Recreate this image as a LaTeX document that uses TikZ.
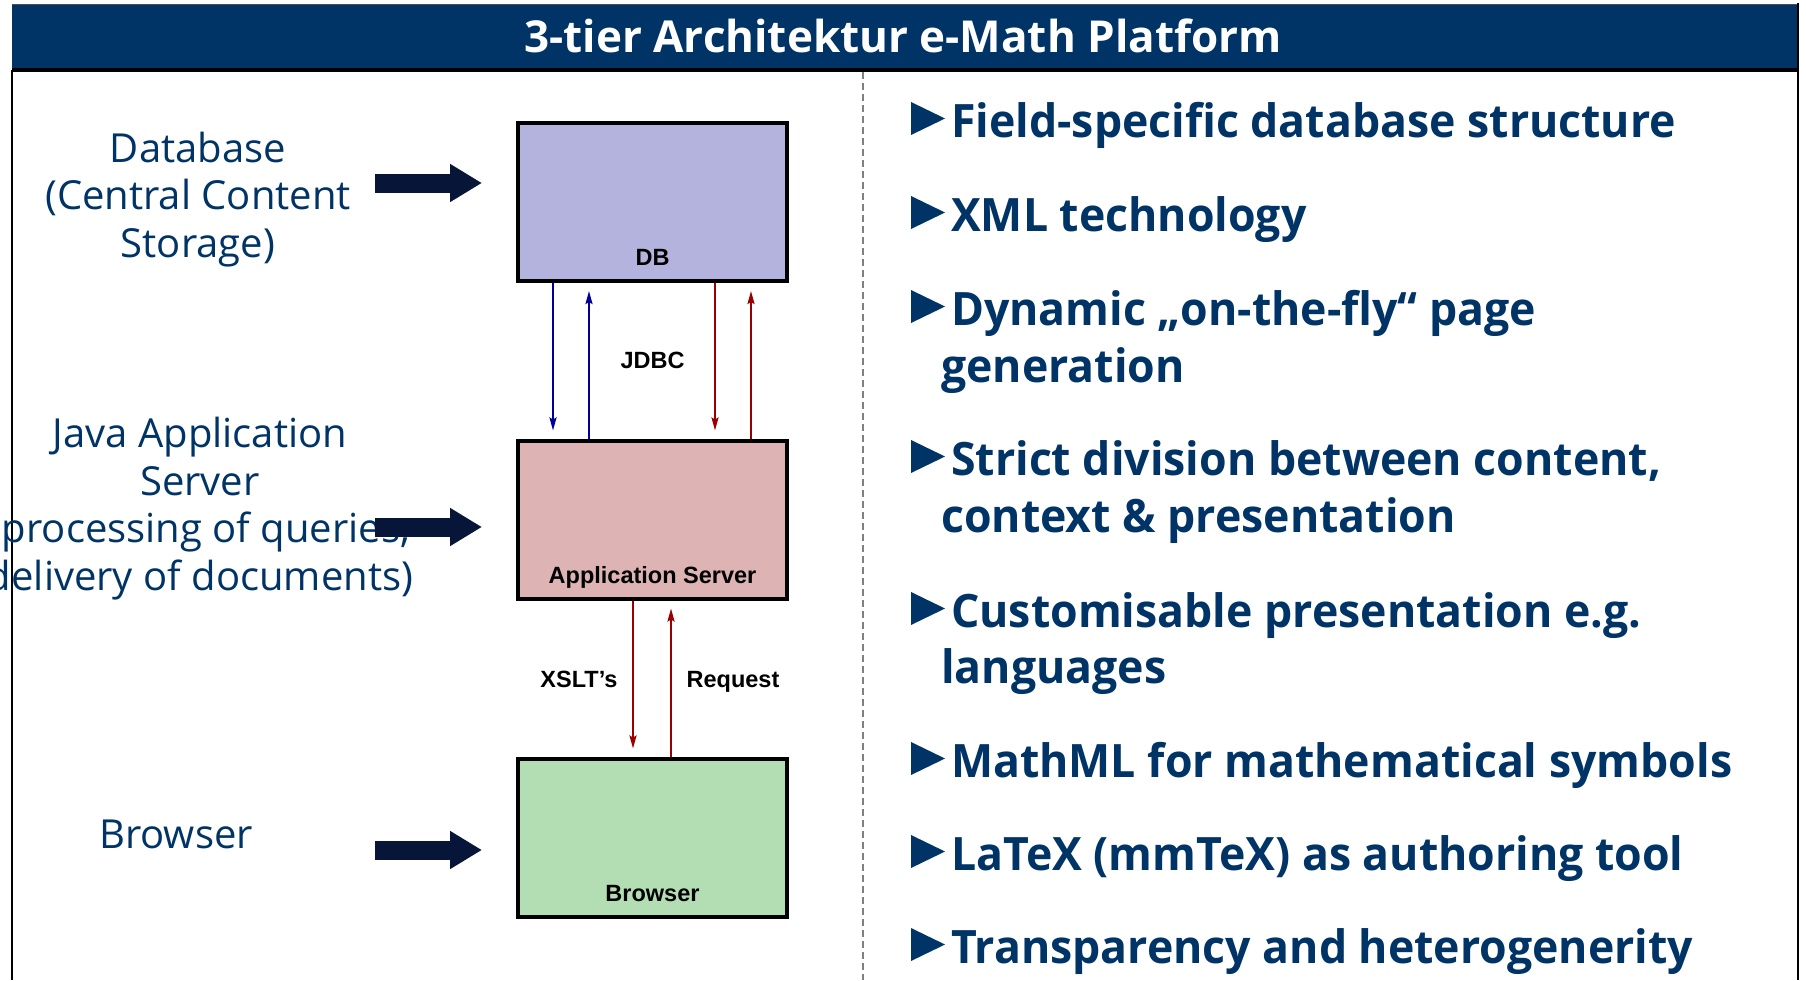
\documentclass[tikz,border=0pt]{standalone}
\usepackage{fontspec}
\usetikzlibrary{arrows.meta}

\newfontfamily\labelfont{Open Sans}
\newfontfamily\itemfont[FakeStretch=0.97]{Open Sans}
\newfontfamily\boxfont{Liberation Sans}

\definecolor{navy}{HTML}{003366}
\definecolor{arrownavy}{HTML}{071638}
\definecolor{dbfill}{HTML}{B3B3DD}
\definecolor{appfill}{HTML}{DDB3B3}
\definecolor{brfill}{HTML}{B3DDB3}
\definecolor{fblue}{HTML}{000099}
\definecolor{fred}{HTML}{990000}

\tikzset{
  title/.style={font=\labelfont\bfseries\fontsize{44}{50}\selectfont, text=white, anchor=base, inner sep=0pt},
  side/.style={font=\labelfont\fontsize{40}{47.5}\selectfont, text=navy, align=center, anchor=base, inner sep=0pt},
  item/.style={font=\itemfont\bfseries\fontsize{46}{57}\selectfont, text=navy, anchor=base west, inner sep=0pt},
  tier/.style={draw=black, line width=4pt, minimum width=269pt, minimum height=158pt, inner sep=0pt},
  boxlbl/.style={font=\boxfont\bfseries\fontsize{23.5}{28}\selectfont, anchor=base, inner sep=0pt},
  flow/.style={line width=2pt, -{Stealth[length=13pt,width=7pt,inset=2pt]}, shorten >=8pt},
  bigarrow/.style={arrownavy, line width=19pt, -{Triangle[length=32pt,width=36pt]}, shorten >=34pt}
}

\newcommand{\itemmark}[1]{\fill[navy] (#1.base west) ++(-40,-2) -- ++(0,-33) -- ++(34,16.5) -- cycle;}

\begin{document}
\begin{tikzpicture}[x=1pt, y=-1pt]
  \useasboundingbox (0,0) rectangle (1806,980);

  % header band and frame
  \fill[navy] (12,5) rectangle (1797,68);
  \draw[black!70, line width=1pt] (12,4.5) -- (1797,4.5);
  \draw[line width=4pt] (12,70) -- (1799,70);
  \draw[line width=2.5pt] (1798,3) -- (1798,980);
  \draw[line width=1.5pt] (12,70) -- (12,980);
  \draw[gray, line width=1.5pt, dash pattern=on 7pt off 4pt] (863,72) -- (863,980);
  \node[title] (head) at (903,52) {3-tier Architektur e-Math Platform};

  % tiers
  \node[tier, fill=dbfill] (db) at (652.5,202) {};
  \node[tier, fill=appfill] (app) at (652.5,519.5) {};
  \node[tier, fill=brfill] (br) at (652.5,837.5) {};
  \node[boxlbl] (dblbl) at (652.5,265) {DB};
  \node[boxlbl] (applbl) at (652.5,583) {Application Server};
  \node[boxlbl] (brlbl) at (652.5,901) {Browser};

  % db <-> app
  \draw[flow, fblue] ([xshift=-99.5pt]db.south) -- ([xshift=-99.5pt]app.north);
  \draw[flow, fblue] ([xshift=-63.5pt]app.north) -- ([xshift=-63.5pt]db.south);
  \draw[flow, fred] ([xshift=62.5pt]db.south) -- ([xshift=62.5pt]app.north);
  \draw[flow, fred] ([xshift=98.5pt]app.north) -- ([xshift=98.5pt]db.south);
  \node[boxlbl] (jdbc) at (652.5,368) {JDBC};

  % app <-> browser
  \draw[flow, fred] ([xshift=-19.5pt]app.south) -- ([xshift=-19.5pt]br.north);
  \draw[flow, fred] ([xshift=18.5pt]br.north) -- ([xshift=18.5pt]app.south);
  \node[boxlbl] (xslt) at (579,687) {XSLT’s};
  \node[boxlbl] (req) at (733,687) {Request};

  % left labels (base = last line)
  \node[side] (dbtxt) at (198,257) {Database\\(Central Content\\Storage)};
  \node[side] (apptxt) at (200,590) {Java Application\\Server\\(processing of queries,\\delivery of documents)};
  \node[side] (brtxt) at (176,848) {Browser};

  \coordinate (dbtail) at (375,183);
  \coordinate (apptail) at (375,527);
  \coordinate (brtail) at (375,850);
  \draw[bigarrow] (dbtail) -- (dbtail -| db.west);
  \draw[bigarrow] (apptail) -- (apptail -| app.west);
  \draw[bigarrow] (brtail) -- (brtail -| br.west);

  % right column
  \node[item] (it1) at (951,137) {Field-specific database structure};
  \node[item] (it2) at (951,231) {XML technology};
  \node[item] (it3) at (951,325) {Dynamic „on-the-fly“ page};
  \node[item] (it3b) at (941,382) {generation};
  \node[item] (it4) at (951,475) {Strict division between content,};
  \node[item] (it4b) at (941,532) {context \& presentation};
  \node[item] (it5) at (951,627) {Customisable presentation e.g.};
  \node[item] (it5b) at (941,683) {languages};
  \node[item] (it6) at (951,777) {MathML for mathematical symbols};
  \node[item] (it7) at (951,870) {LaTeX (mmTeX) as authoring tool};
  \node[item] (it8) at (951,963) {Transparency and heterogenerity};
  \itemmark{it1}
  \itemmark{it2}
  \itemmark{it3}
  \itemmark{it4}
  \itemmark{it5}
  \itemmark{it6}
  \itemmark{it7}
  \itemmark{it8}
\end{tikzpicture}
\end{document}
